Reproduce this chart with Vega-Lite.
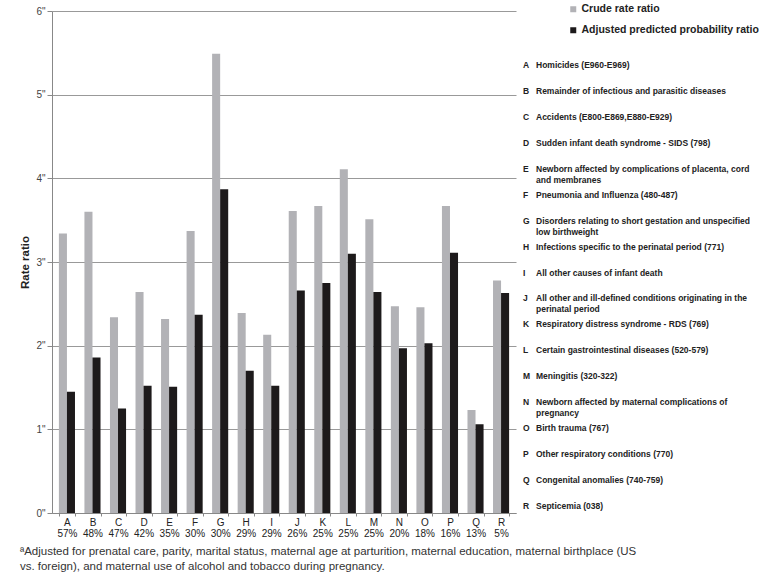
{
  "$schema": "https://vega.github.io/schema/vega-lite/v6.json",
  "background": "white",
  "padding": {"left": 19, "top": 4, "right": 0, "bottom": 0},
  "config": {"view": {"stroke": null}, "font": "Liberation Sans"},
  "datasets": {
    "bars": [
      {"cat": "A 57%", "series": "Crude rate ratio", "value": 3.34},
      {"cat": "A 57%", "series": "Adjusted predicted probability ratio", "value": 1.45},
      {"cat": "B 48%", "series": "Crude rate ratio", "value": 3.6},
      {"cat": "B 48%", "series": "Adjusted predicted probability ratio", "value": 1.86},
      {"cat": "C 47%", "series": "Crude rate ratio", "value": 2.34},
      {"cat": "C 47%", "series": "Adjusted predicted probability ratio", "value": 1.25},
      {"cat": "D 42%", "series": "Crude rate ratio", "value": 2.64},
      {"cat": "D 42%", "series": "Adjusted predicted probability ratio", "value": 1.52},
      {"cat": "E 35%", "series": "Crude rate ratio", "value": 2.32},
      {"cat": "E 35%", "series": "Adjusted predicted probability ratio", "value": 1.51},
      {"cat": "F 30%", "series": "Crude rate ratio", "value": 3.37},
      {"cat": "F 30%", "series": "Adjusted predicted probability ratio", "value": 2.37},
      {"cat": "G 30%", "series": "Crude rate ratio", "value": 5.49},
      {"cat": "G 30%", "series": "Adjusted predicted probability ratio", "value": 3.87},
      {"cat": "H 29%", "series": "Crude rate ratio", "value": 2.39},
      {"cat": "H 29%", "series": "Adjusted predicted probability ratio", "value": 1.7},
      {"cat": "I 29%", "series": "Crude rate ratio", "value": 2.13},
      {"cat": "I 29%", "series": "Adjusted predicted probability ratio", "value": 1.52},
      {"cat": "J 26%", "series": "Crude rate ratio", "value": 3.61},
      {"cat": "J 26%", "series": "Adjusted predicted probability ratio", "value": 2.66},
      {"cat": "K 25%", "series": "Crude rate ratio", "value": 3.67},
      {"cat": "K 25%", "series": "Adjusted predicted probability ratio", "value": 2.75},
      {"cat": "L 25%", "series": "Crude rate ratio", "value": 4.11},
      {"cat": "L 25%", "series": "Adjusted predicted probability ratio", "value": 3.1},
      {"cat": "M 25%", "series": "Crude rate ratio", "value": 3.51},
      {"cat": "M 25%", "series": "Adjusted predicted probability ratio", "value": 2.64},
      {"cat": "N 20%", "series": "Crude rate ratio", "value": 2.47},
      {"cat": "N 20%", "series": "Adjusted predicted probability ratio", "value": 1.97},
      {"cat": "O 18%", "series": "Crude rate ratio", "value": 2.46},
      {"cat": "O 18%", "series": "Adjusted predicted probability ratio", "value": 2.03},
      {"cat": "P 16%", "series": "Crude rate ratio", "value": 3.67},
      {"cat": "P 16%", "series": "Adjusted predicted probability ratio", "value": 3.11},
      {"cat": "Q 13%", "series": "Crude rate ratio", "value": 1.23},
      {"cat": "Q 13%", "series": "Adjusted predicted probability ratio", "value": 1.06},
      {"cat": "R 5%", "series": "Crude rate ratio", "value": 2.78},
      {"cat": "R 5%", "series": "Adjusted predicted probability ratio", "value": 2.63}
    ],
    "causes": [
      {"letter": "A", "tag": "A", "desc": "Homicides (E960-E969)"},
      {"letter": "B", "tag": "B", "desc": "Remainder of infectious and parasitic diseases"},
      {"letter": "C", "tag": "C", "desc": "Accidents (E800-E869,E880-E929)"},
      {"letter": "D", "tag": "D", "desc": "Sudden infant death syndrome - SIDS (798)"},
      {"letter": "E", "tag": "E\n", "desc": "Newborn affected by complications of placenta, cord\n and membranes"},
      {"letter": "F", "tag": "F", "desc": "Pneumonia and Influenza (480-487)"},
      {"letter": "G", "tag": "G\n", "desc": "Disorders relating to short gestation and unspecified\n low birthweight"},
      {"letter": "H", "tag": "H", "desc": "Infections specific to the perinatal period (771)"},
      {"letter": "I", "tag": "I", "desc": "All other causes of infant death"},
      {"letter": "J", "tag": "J\n", "desc": "All other and ill-defined conditions originating in the\n perinatal period"},
      {"letter": "K", "tag": "K", "desc": "Respiratory distress syndrome - RDS (769)"},
      {"letter": "L", "tag": "L", "desc": "Certain gastrointestinal diseases (520-579)"},
      {"letter": "M", "tag": "M", "desc": "Meningitis (320-322)"},
      {"letter": "N", "tag": "N\n", "desc": "Newborn affected by maternal complications of\n pregnancy"},
      {"letter": "O", "tag": "O", "desc": "Birth trauma (767)"},
      {"letter": "P", "tag": "P", "desc": "Other respiratory conditions (770)"},
      {"letter": "Q", "tag": "Q", "desc": "Congenital anomalies (740-759)"},
      {"letter": "R", "tag": "R", "desc": "Septicemia (038)"}
    ]
  },
  "title": {
    "text": ["ªAdjusted for prenatal care, parity, marital status, maternal age at parturition, maternal education, maternal birthplace (US", "vs. foreign), and maternal use of alcohol and tobacco during pregnancy."],
    "orient": "bottom",
    "anchor": "start",
    "fontSize": 11.5,
    "fontWeight": "normal",
    "color": "#333",
    "lineHeight": 15,
    "offset": 8
  },
  "bounds": "flush",
  "spacing": 6,
  "resolve": {"scale": {"color": "independent"}, "legend": {"color": "independent"}},
  "hconcat": [
    {
      "width": 464,
      "height": 502,
      "data": {"name": "bars"},
      "mark": {"type": "bar"},
      "encoding": {
        "x": {
          "field": "cat", "type": "nominal", "sort": null,
          "scale": {"paddingInner": 0.37, "paddingOuter": 0.27},
          "axis": {
            "title": null, "labelAngle": 0,
            "labelExpr": "isValid(datum.value) ? split(datum.value, ' ') : ''",
            "labelFontSize": 10, "labelColor": "#222", "labelLineHeight": 11,
            "labelPadding": 1, "tickSize": 3, "tickBand": "extent",
            "tickColor": "#888", "domainColor": "#888"
          }
        },
        "xOffset": {
          "field": "series", "type": "nominal",
          "scale": {"domain": ["Crude rate ratio", "Adjusted predicted probability ratio"], "paddingInner": 0, "paddingOuter": 0}
        },
        "y": {
          "field": "value", "type": "quantitative",
          "scale": {"domain": [0, 6], "nice": false},
          "axis": {
            "title": "Rate ratio", "titleFontSize": 11.5, "titleFontWeight": "bold", "titleColor": "#222", "titlePadding": 5,
            "values": [0, 1, 2, 3, 4, 5, 6],
            "labelExpr": "datum.value + '\"'",
            "labelFontSize": 10, "labelColor": "#444", "labelPadding": 2,
            "tickSize": 5, "tickColor": "#888", "domainColor": "#888",
            "grid": true, "gridColor": "#999"
          }
        },
        "color": {
          "field": "series", "type": "nominal",
          "scale": {"domain": ["Crude rate ratio", "Adjusted predicted probability ratio"], "range": ["#b2b2b6", "#1d1a1b"]},
          "legend": {
            "title": null, "orient": "none", "legendX": 516, "legendY": -7,
            "symbolType": "square", "symbolSize": 36, "symbolStrokeWidth": 0,
            "labelFontSize": 10.5, "labelFontWeight": "bold", "labelColor": "#222",
            "labelLimit": 300, "rowPadding": 10, "labelOffset": 3, "padding": 0
          }
        }
      }
    },
    {
      "width": 2,
      "height": 502,
      "data": {"name": "causes"},
      "encoding": {
        "y": {"field": "letter", "type": "ordinal", "sort": null, "scale": {"type": "point", "range": [41, 508]}, "axis": null}
      },
      "layer": [
        {
          "mark": {"type": "text", "align": "left", "baseline": "middle", "fontSize": 8.5, "fontWeight": "bold", "color": "#222", "lineBreak": "\n", "lineHeight": 11},
          "encoding": {"text": {"field": "tag"}}
        },
        {
          "mark": {"type": "text", "align": "left", "baseline": "middle", "dx": 13, "fontSize": 8.5, "fontWeight": "bold", "color": "#222", "lineBreak": "\n", "lineHeight": 11},
          "encoding": {"text": {"field": "desc"}}
        }
      ]
    }
  ]
}
